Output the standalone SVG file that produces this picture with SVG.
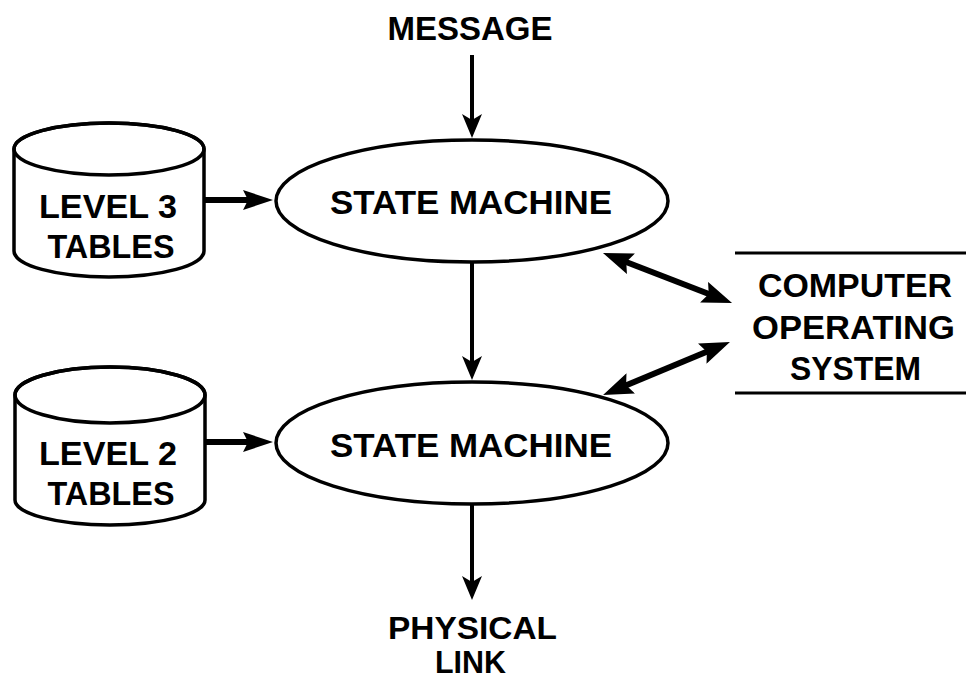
<svg xmlns="http://www.w3.org/2000/svg" width="966" height="680" viewBox="0 0 966 680">
  <style>
    .bg { fill: #ffffff; }
    .shape { fill: #ffffff; stroke: #000000; stroke-width: 3.5; }
    .thin { fill: none; stroke: #000000; stroke-width: 3.5; }
    .rule { fill: none; stroke: #000000; stroke-width: 3; }
    .label { font-family: "Liberation Sans", Arial, sans-serif; font-weight: bold; font-size: 34px; fill: #000000; text-anchor: middle; }
    .small { font-size: 31px; }
    .flow { fill: none; stroke: #000000; stroke-width: 4; }
    .feed { fill: none; stroke: #000000; stroke-width: 6; }
    .link { fill: none; stroke: #000000; stroke-width: 6; }
  </style>
  <defs>
    <!-- heavy head for table feeds -->
    <marker id="headFeed" viewBox="0 0 30 20" refX="10" refY="10" markerWidth="30" markerHeight="20" markerUnits="userSpaceOnUse" orient="auto">
      <path d="M0,0 L30,10 L0,20 L5,10 z" fill="#000000"/>
    </marker>
    <!-- small notched head for the vertical message flow -->
    <marker id="headFlow" viewBox="0 0 24 20" refX="8" refY="10" markerWidth="24" markerHeight="20" markerUnits="userSpaceOnUse" orient="auto">
      <path d="M0,0 L24,10 L0,20 L6,10 z" fill="#000000"/>
    </marker>
    <!-- head used on both ends of the OS links -->
    <marker id="headLink" viewBox="0 0 30 22" refX="10" refY="11" markerWidth="30" markerHeight="22" markerUnits="userSpaceOnUse" orient="auto-start-reverse">
      <path d="M0,0 L30,11 L0,22 L5,11 z" fill="#000000"/>
    </marker>
  </defs>

  <rect class="bg" x="0" y="0" width="966" height="680"/>

  <g id="connectors">
    <line class="flow" x1="472" y1="55" x2="472" y2="122" marker-end="url(#headFlow)"/>
    <line class="flow" x1="472" y1="263" x2="472" y2="364" marker-end="url(#headFlow)"/>
    <line class="flow" x1="472" y1="504" x2="472" y2="584" marker-end="url(#headFlow)"/>
    <line class="feed" x1="205" y1="200" x2="253" y2="200" marker-end="url(#headFeed)"/>
    <line class="feed" x1="206" y1="442" x2="253" y2="442" marker-end="url(#headFeed)"/>
    <line class="link" x1="621.6" y1="260.2" x2="713.4" y2="295.8" marker-start="url(#headLink)" marker-end="url(#headLink)"/>
    <line class="link" x1="711.5" y1="349.7" x2="621.5" y2="387.3" marker-start="url(#headLink)" marker-end="url(#headLink)"/>
  </g>

  <g id="message">
    <text class="label" x="470" y="40" textLength="165" lengthAdjust="spacingAndGlyphs">MESSAGE</text>
  </g>

  <g id="level3-tables">
    <path class="shape" d="M14,149 L14,251 A95,26 0 0 0 204,251 L204,149 A95,26 0 0 0 14,149 z"/>
    <ellipse class="thin" cx="109" cy="149" rx="95" ry="26"/>
    <text class="label" x="108" y="218" textLength="138" lengthAdjust="spacingAndGlyphs">LEVEL 3</text>
    <text class="label" x="111" y="258" textLength="127" lengthAdjust="spacingAndGlyphs">TABLES</text>
  </g>

  <g id="state-machine-upper">
    <ellipse class="shape" cx="472" cy="201" rx="196" ry="61"/>
    <text class="label" x="471" y="214" textLength="282" lengthAdjust="spacingAndGlyphs">STATE MACHINE</text>
  </g>

  <g id="level2-tables">
    <path class="shape" d="M15,395 L15,500 A95,25 0 0 0 205,500 L205,395 A95,28 0 0 0 15,395 z"/>
    <ellipse class="thin" cx="110" cy="395" rx="95" ry="28"/>
    <text class="label" x="108" y="465" textLength="138" lengthAdjust="spacingAndGlyphs">LEVEL 2</text>
    <text class="label" x="111" y="505" textLength="127" lengthAdjust="spacingAndGlyphs">TABLES</text>
  </g>

  <g id="state-machine-lower">
    <ellipse class="shape" cx="472" cy="443" rx="196" ry="61"/>
    <text class="label" x="471" y="457" textLength="282" lengthAdjust="spacingAndGlyphs">STATE MACHINE</text>
  </g>

  <g id="operating-system">
    <line class="rule" x1="735" y1="253" x2="966" y2="253"/>
    <line class="rule" x1="735" y1="393" x2="966" y2="393"/>
    <text class="label" x="855" y="297" textLength="194" lengthAdjust="spacingAndGlyphs">COMPUTER</text>
    <text class="label" x="853.5" y="339" textLength="203" lengthAdjust="spacingAndGlyphs">OPERATING</text>
    <text class="label" x="855.5" y="380" textLength="131" lengthAdjust="spacingAndGlyphs">SYSTEM</text>
  </g>

  <g id="physical-link">
    <text class="label small" x="472.5" y="639" textLength="169" lengthAdjust="spacingAndGlyphs">PHYSICAL</text>
    <text class="label small" x="470.5" y="673" textLength="71" lengthAdjust="spacingAndGlyphs">LINK</text>
  </g>
</svg>
